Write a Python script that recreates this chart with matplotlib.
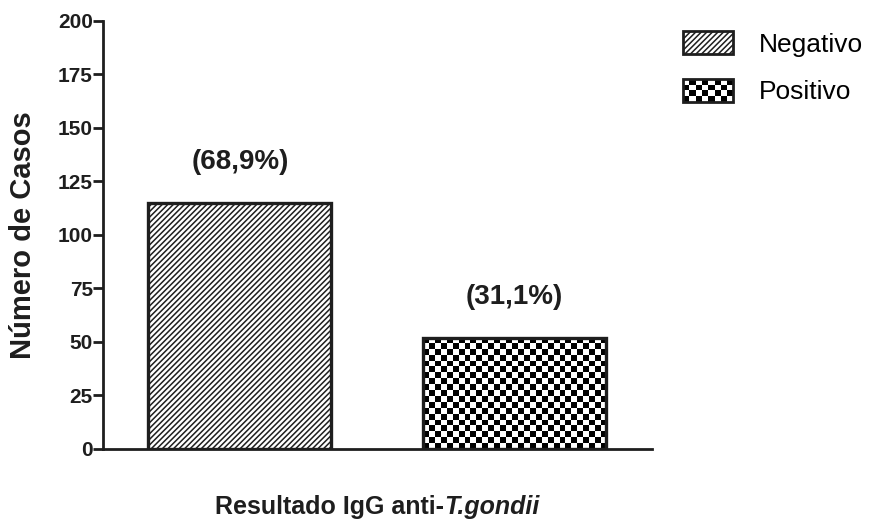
import matplotlib.pyplot as plt
import numpy as np
from matplotlib.patches import Rectangle, Patch
from matplotlib.legend_handler import HandlerBase

plt.rcParams['font.family'] = ['Liberation Sans', 'DejaVu Sans']
plt.rcParams['hatch.linewidth'] = 1.1

# dados
categorias = ['Negativo', 'Positivo']
casos = [115, 52]
rotulos = ['(68,9%)', '(31,1%)']
yticks = [0, 25, 50, 75, 100, 125, 150, 175, 200]

COR = '#1e1e1e'


class CheckerHandler(HandlerBase):
    """Legenda com padrão xadrez"""
    def create_artists(self, legend, orig_handle, xdescent, ydescent,
                       width, height, fontsize, trans):
        x0, y0 = -xdescent, -ydescent
        arts = [Rectangle((x0, y0), width, height, facecolor='white',
                          edgecolor='none', transform=trans)]
        nx, ny = 8, 4
        cw, ch = width / nx, height / ny
        for i in range(nx):
            for j in range(ny):
                if (i + j) % 2 == 0:
                    arts.append(Rectangle((x0 + i * cw, y0 + j * ch), cw, ch,
                                          facecolor='black', edgecolor='none',
                                          transform=trans))
        arts.append(Rectangle((x0, y0), width, height, facecolor='none',
                              edgecolor=COR, lw=2, transform=trans))
        return arts


fig = plt.figure(figsize=(8.7, 5.22), dpi=100)
ax = fig.add_axes([0.118, 0.14, 0.631, 0.82])

x = np.arange(len(categorias))
largura = 0.667
barras = ax.bar(x, casos, width=largura, color='white', edgecolor=COR,
                linewidth=2.4, zorder=3)
barras[0].set_hatch('//////')

ax.set_xlim(-0.5, 1.5)
ax.set_ylim(0, 200)

# xadrez na barra positiva
bbox = ax.get_position()
px_x = bbox.width * 870 / 2.0
px_y = bbox.height * 522 / 200.0
cel = 6.0
b = barras[1]
bx, bw, bh = b.get_x(), b.get_width(), b.get_height()
nx = int(round(bw * px_x / cel))
ny = int(round(bh * px_y / cel))
grade = (np.indices((ny, nx)).sum(axis=0) % 2).astype(float)
img = ax.imshow(grade, cmap='gray', vmin=0, vmax=1, interpolation='nearest',
                extent=(bx, bx + bw, 0, bh), aspect='auto', zorder=2)
img.set_clip_path(b)
b.set_facecolor('none')
ax.set_aspect('auto')
ax.set_xlim(-0.5, 1.5)
ax.set_ylim(0, 200)

for xi, yi, r in zip(x, casos, rotulos):
    ax.text(xi, yi + 13, r, ha='center', va='bottom', fontsize=20,
            fontweight='bold', color=COR)

for s in ['top', 'right']:
    ax.spines[s].set_visible(False)
for s in ['left', 'bottom']:
    ax.spines[s].set_linewidth(2.0)
    ax.spines[s].set_color(COR)

ax.set_yticks(yticks)
ax.set_xticks([])
ax.tick_params(axis='y', length=7, width=2.0, labelsize=15, pad=0,
               color=COR, labelcolor=COR)
for t in ax.get_yticklabels():
    t.set_fontweight('bold')

ax.set_ylabel('Número de Casos', fontsize=21, fontweight='bold', labelpad=15,
              color=COR)

# rótulo do eixo x: parte normal + parte itálica
r = fig.canvas.get_renderer()
t1 = fig.text(0, 0.015, 'Resultado IgG anti-', fontsize=18,
              fontweight='bold', color=COR, ha='left', va='baseline')
t2 = fig.text(0, 0.015, 'T.gondii', fontsize=18, fontweight='bold',
              style='italic', color=COR, ha='left', va='baseline')
w1 = t1.get_window_extent(r).width
w2 = t2.get_window_extent(r).width
cx = (bbox.x0 + bbox.x1) / 2 * 870
t1.set_x((cx - (w1 + w2) / 2) / 870)
t2.set_x((cx - (w1 + w2) / 2 + w1) / 870)

h1 = Patch(facecolor='white', edgecolor=COR, hatch='//////', linewidth=2)
h2 = Patch(facecolor='white', edgecolor='black')
fig.legend([h1, h2], categorias, handler_map={h2: CheckerHandler()},
           loc='upper left', bbox_to_anchor=(0.758, 0.986), frameon=False,
           fontsize=19, handlelength=1.9, handleheight=0.95,
           handletextpad=0.95, labelspacing=0.85, borderpad=0.4)

plt.savefig('out.png', dpi=100)
plt.close()
